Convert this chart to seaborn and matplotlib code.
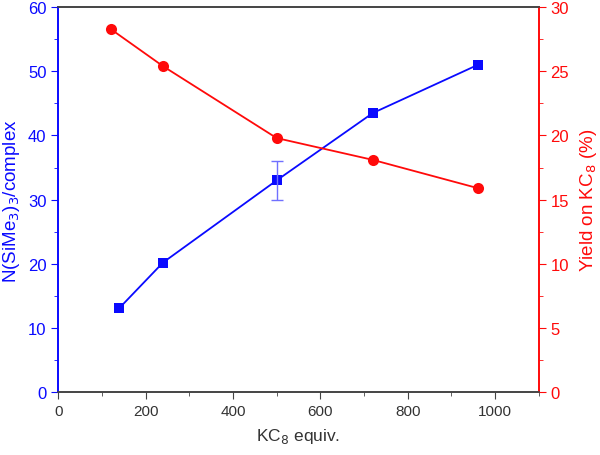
import seaborn as sns
import matplotlib.pyplot as plt
from matplotlib.ticker import MultipleLocator

# data
kc8_blue = [140, 240, 500, 720, 960]
n_complex = [13.1, 20.2, 33.0, 43.5, 51.0]
n_err = [0, 0, 3.0, 0, 0]

kc8_red = [120, 240, 500, 720, 960]
yield_pct = [28.3, 25.4, 19.8, 18.1, 15.9]

sns.set_style("ticks")
plt.rcParams['font.family'] = ['Liberation Sans', 'DejaVu Sans']

blue = "#0a0aff"
red = "#ff0a0a"

fig = plt.figure(figsize=(6, 4.56), dpi=100)
ax = fig.add_axes([0.097, 0.138, 0.801, 0.844])
ax2 = ax.twinx()

# N(SiMe3)3 per complex
sns.lineplot(x=kc8_blue, y=n_complex, ax=ax, color=blue, marker="s",
             markersize=7, markeredgewidth=0, linewidth=1.3)
ax.errorbar([kc8_blue[2]], [n_complex[2]], yerr=[n_err[2]], fmt="none",
            ecolor="#7070ff", elinewidth=1, capsize=4, capthick=1)

# yield on KC8
sns.lineplot(x=kc8_red, y=yield_pct, ax=ax2, color=red, marker="o",
             markersize=8, markeredgewidth=0, linewidth=1.3)

ax.set_xlim(0, 1100)
ax.set_ylim(0, 60)
ax2.set_ylim(0, 30)

ax.xaxis.set_major_locator(MultipleLocator(200))
ax.xaxis.set_minor_locator(MultipleLocator(100))
ax.yaxis.set_major_locator(MultipleLocator(10))
ax.yaxis.set_minor_locator(MultipleLocator(5))
ax2.yaxis.set_major_locator(MultipleLocator(5))
ax2.yaxis.set_minor_locator(MultipleLocator(2.5))

ax.set_xlabel("KC$_8$ equiv.", fontsize=12.5, color="#333333", labelpad=6)
ax.set_ylabel("N(SiMe$_3$)$_3$/complex", fontsize=13.5, color=blue,
              labelpad=4)
ax2.set_ylabel("Yield on KC$_8$ (%)", fontsize=13.5, color=red, labelpad=6)

for a in (ax, ax2):
    a.spines["top"].set_color("#444444")
    a.spines["bottom"].set_color("#444444")
    a.spines["left"].set_color(blue)
    a.spines["right"].set_color(red)
    for s in a.spines.values():
        s.set_linewidth(1.2)

ax.tick_params(axis="x", which="both", direction="out", colors="#444444",
               labelcolor="#333333", labelsize=11)
ax.tick_params(axis="x", which="major", length=5)
ax.tick_params(axis="x", which="minor", length=3)
ax.tick_params(axis="y", which="both", direction="out", colors=blue,
               labelsize=12)
ax.tick_params(axis="y", which="major", length=5)
ax.tick_params(axis="y", which="minor", length=3)
ax2.tick_params(axis="y", which="both", direction="out", colors=red,
                labelsize=12)
ax2.tick_params(axis="y", which="major", length=5)
ax2.tick_params(axis="y", which="minor", length=3)

plt.savefig("out.png", dpi=100)
